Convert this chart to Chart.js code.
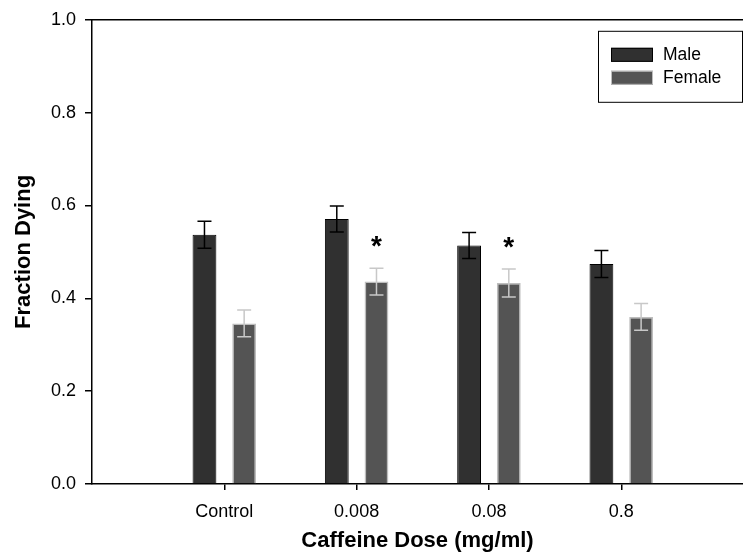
<!DOCTYPE html>
<html>
<head>
<meta charset="utf-8">
<script src="https://cdn.jsdelivr.net/npm/chart.js@4.4.1/dist/chart.umd.min.js"></script>
<style>
  html, body { margin: 0; padding: 0; background: #fff; overflow: hidden; }
  #wrap { width: 743px; height: 554px; }
</style>
</head>
<body>
<div id="wrap"><canvas id="doseChart" width="743" height="554"></canvas></div>
<script>
// данные
const doseLabels = ['Control', '0.008', '0.08', '0.8'];
const maleMeans = [0.537, 0.571, 0.514, 0.474];
const maleErr = [0.029, 0.028, 0.028, 0.029];
const femaleMeans = [0.346, 0.436, 0.433, 0.360];
const femaleErr = [0.029, 0.029, 0.030, 0.029];
const femaleSig = ['', '*', '*', ''];
const yTicks = [0, 0.2, 0.4, 0.6, 0.8, 1.0];

const FONT = 'Arial, "Liberation Sans", sans-serif';

// точки для линейной оси x: категории стоят в 1..4
const toPoints = arr => arr.map((v, i) => ({ x: i + 1, y: v }));

// усы ошибок и звёздочки
const errorBars = {
  id: 'errorBars',
  afterDatasetsDraw(chart) {
    const ctx = chart.ctx;
    const y = chart.scales.y;
    const sets = [
      { means: maleMeans, err: maleErr, color: '#000' },
      { means: femaleMeans, err: femaleErr, color: '#c8c8c8' }
    ];
    ctx.save();
    sets.forEach((s, di) => {
      const meta = chart.getDatasetMeta(di);
      meta.data.forEach((bar, i) => {
        const top = y.getPixelForValue(s.means[i] + s.err[i]);
        const bot = y.getPixelForValue(s.means[i] - s.err[i]);
        ctx.strokeStyle = s.color;
        ctx.lineWidth = 1.5;
        ctx.beginPath();
        ctx.moveTo(bar.x, top);
        ctx.lineTo(bar.x, bot);
        ctx.moveTo(bar.x - 7, top);
        ctx.lineTo(bar.x + 7, top);
        ctx.moveTo(bar.x - 7, bot);
        ctx.lineTo(bar.x + 7, bot);
        ctx.stroke();
        if (di === 1 && femaleSig[i]) {
          ctx.fillStyle = '#000';
          ctx.font = 'bold 28px ' + FONT;
          ctx.textAlign = 'center';
          ctx.textBaseline = 'alphabetic';
          ctx.fillText(femaleSig[i], bar.x, top - 13);
        }
      });
    });
    ctx.restore();
  }
};

// верхняя рамка и легенда в рамке
const frameLegend = {
  id: 'frameLegend',
  afterDraw(chart) {
    const ctx = chart.ctx;
    const a = chart.chartArea;
    ctx.save();
    ctx.strokeStyle = '#000';
    ctx.lineWidth = 1.5;
    ctx.beginPath();
    ctx.moveTo(a.left, a.top);
    ctx.lineTo(a.right, a.top);
    ctx.stroke();

    const bx = a.right - 145, by = a.top + 11;
    ctx.lineWidth = 1;
    ctx.strokeRect(bx + 0.5, by + 0.5, 144, 71);
    ctx.font = '17.5px ' + FONT;
    ctx.textBaseline = 'middle';
    ctx.textAlign = 'left';
    chart.data.datasets.forEach((ds, i) => {
      const cy = by + 24 + i * 23;
      ctx.fillStyle = ds.backgroundColor;
      ctx.fillRect(bx + 13, cy - 7, 42, 14);
      ctx.strokeStyle = ds.borderColor;
      ctx.strokeRect(bx + 13.5, cy - 6.5, 41, 13);
      ctx.fillStyle = '#000';
      ctx.fillText(ds.label, bx + 65, cy);
    });
    ctx.restore();
  }
};

new Chart(document.getElementById('doseChart'), {
  type: 'bar',
  data: {
    datasets: [{
      label: 'Male',
      data: toPoints(maleMeans),
      backgroundColor: '#303030',
      borderColor: '#000',
      borderWidth: 1
    }, {
      label: 'Female',
      data: toPoints(femaleMeans),
      backgroundColor: '#545454',
      borderColor: '#bdbdbd',
      borderWidth: 1.5
    }]
  },
  options: {
    responsive: false,
    animation: false,
    categoryPercentage: 0.6,
    barPercentage: 0.6,
    layout: { padding: { top: 18, right: 0, left: 0, bottom: 0 } },
    plugins: {
      legend: { display: false },
      tooltip: { enabled: false }
    },
    scales: {
      x: {
        type: 'linear',
        min: 0,
        max: 4.92,
        offset: false,
        afterBuildTicks: axis => { axis.ticks = doseLabels.map((l, i) => ({ value: i + 1 })); },
        afterFit: axis => { axis.height = 70; },
        grid: { offset: false, drawOnChartArea: false, drawTicks: true, tickLength: 6, color: '#000', lineWidth: 1.5 },
        border: { display: true, color: '#000', width: 1.5 },
        ticks: {
          autoSkip: false,
          maxRotation: 0,
          padding: 11,
          color: '#000',
          font: { family: FONT, size: 18 },
          callback: v => doseLabels[Math.round(v) - 1] || ''
        },
        title: {
          display: true,
          text: 'Caffeine Dose (mg/ml)',
          color: '#000',
          font: { family: FONT, size: 22, weight: 'bold' },
          padding: { top: 0, bottom: 0 }
        }
      },
      y: {
        min: 0,
        max: 1,
        afterBuildTicks: axis => { axis.ticks = yTicks.map(v => ({ value: v })); },
        afterFit: axis => { axis.width = 92; },
        grid: { drawOnChartArea: false, drawTicks: true, tickLength: 7, color: '#000', lineWidth: 1.5 },
        border: { display: true, color: '#000', width: 1.5 },
        ticks: {
          padding: 9,
          color: '#000',
          font: { family: FONT, size: 18 },
          callback: v => v.toFixed(1)
        },
        title: {
          display: true,
          text: 'Fraction Dying',
          color: '#000',
          font: { family: FONT, size: 22, weight: 'bold' },
          padding: { top: 11, bottom: 0 }
        }
      }
    }
  },
  plugins: [errorBars, frameLegend]
});
</script>
</body>
</html>
